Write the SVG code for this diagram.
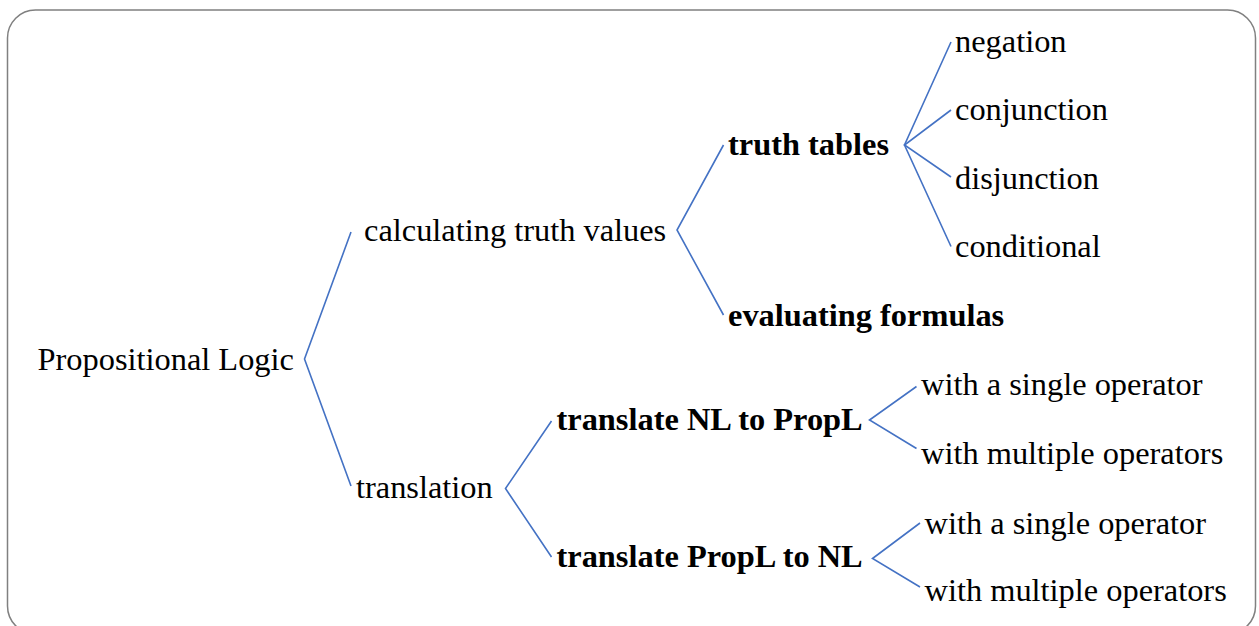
<svg xmlns="http://www.w3.org/2000/svg" width="1259" height="626" viewBox="0 0 1259 626">
<style>
  .t { font-family: "Liberation Serif", "Times New Roman", serif; font-size: 32.4px; fill: #000; }
  .b { font-weight: bold; }
  .c { fill: none; stroke: #4472C4; stroke-width: 1.6; stroke-linejoin: miter; }
</style>
<rect x="7.5" y="10" width="1248" height="624" rx="28" ry="28" fill="#fff" stroke="#808080" stroke-width="1.5"/>
<g id="connectors">
  <polyline class="c" points="351,232 304.5,359 351,486"/>
  <polyline class="c" points="723.5,145 677,230 723.5,315"/>
  <polyline class="c" points="951,42 904.5,145 951,246.5"/>
  <polyline class="c" points="951,110 904.5,145 951,177"/>
  <polyline class="c" points="551.5,421 505.5,488.5 551.5,557"/>
  <polyline class="c" points="916.5,386.5 869.5,420 916.5,448.5"/>
  <polyline class="c" points="920,523 872.5,558.5 920,587"/>
</g>
<g id="n-root"><text class="t" x="37.5" y="370">Propositional Logic</text></g>
<g id="n-calc"><text class="t" x="364" y="241">calculating truth values</text></g>
<g id="n-trans"><text class="t" x="356" y="498">translation</text></g>
<g id="n-tt"><text class="t b" x="728" y="154.5">truth tables</text></g>
<g id="n-eval"><text class="t b" x="728" y="326">evaluating formulas</text></g>
<g id="n-neg"><text class="t" x="955" y="52">negation</text></g>
<g id="n-conj"><text class="t" x="955" y="119.5">conjunction</text></g>
<g id="n-disj"><text class="t" x="955" y="188.5">disjunction</text></g>
<g id="n-cond"><text class="t" x="955" y="257">conditional</text></g>
<g id="n-nl2p"><text class="t b" x="556.5" y="429.5">translate NL to PropL</text></g>
<g id="n-p2nl"><text class="t b" x="556.5" y="567">translate PropL to NL</text></g>
<g id="n-s1"><text class="t" x="921" y="395">with a single operator</text></g>
<g id="n-m1"><text class="t" x="921" y="463.5">with multiple operators</text></g>
<g id="n-s2"><text class="t" x="924.5" y="533.5">with a single operator</text></g>
<g id="n-m2"><text class="t" x="924.5" y="600.5">with multiple operators</text></g>
</svg>
